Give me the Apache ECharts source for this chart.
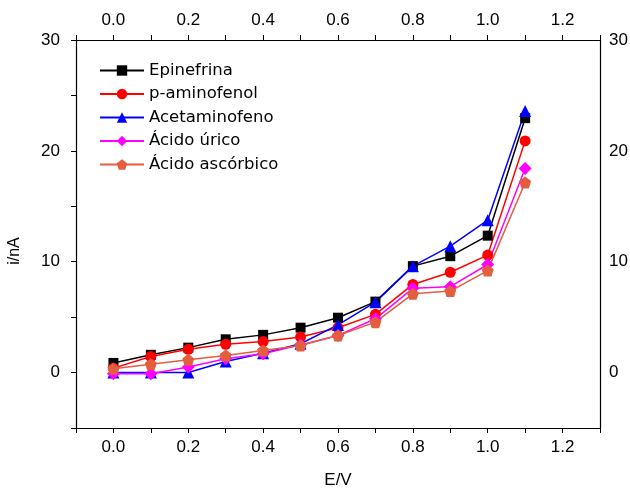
<!DOCTYPE html>
<html>
<head>
<meta charset="utf-8">
<script src="https://cdn.jsdelivr.net/npm/echarts@6/dist/echarts.min.js"></script>
<style>
  html, body { margin: 0; padding: 0; background: #fff; }
  #chart { width: 630px; height: 492px; }
</style>
</head>
<body>
<div id="chart"></div>
<script>
// potenciales (E/V)
var potentials = [0.0, 0.1, 0.2, 0.3, 0.4, 0.5, 0.6, 0.7, 0.8, 0.9, 1.0, 1.1];

// corrientes (i/nA)
var epinefrina   = [0.87, 1.6, 2.25, 3.0, 3.4, 4.05, 4.95, 6.4, 9.6, 10.5, 12.35, 22.95];
var paminofenol  = [0.4, 1.45, 2.1, 2.55, 2.8, 3.2, 4.05, 5.25, 7.95, 9.05, 10.6, 20.9];
var acetamino    = [0.0, 0.0, 0.0, 1.0, 1.75, 2.6, 4.3, 6.35, 9.6, 11.4, 13.75, 23.6];
var acidoUrico   = [-0.1, -0.1, 0.5, 1.25, 1.7, 2.5, 3.35, 4.85, 7.6, 7.75, 9.75, 18.4];
var acidoAscorb  = [0.35, 0.75, 1.15, 1.55, 2.0, 2.45, 3.35, 4.55, 7.1, 7.35, 9.2, 17.15];

var seriesNames = ['Epinefrina', 'p-aminofenol', 'Acetaminofeno', 'Ácido úrico', 'Ácido ascórbico'];
var seriesData = [epinefrina, paminofenol, acetamino, acidoUrico, acidoAscorb];
var colors = ['#000000', '#ff0000', '#0000ff', '#ff00ff', '#e35d3f'];
var symbols = [
  'rect', 'circle', 'triangle', 'diamond',
  'path://M0,-10 L9.5,-3.1 L5.9,8.1 L-5.9,8.1 L-9.5,-3.1 Z'
];
var sizes = [10, 11, 12, 13, 12];

function pairs(ys) {
  return potentials.map(function (x, i) { return [x, ys[i]]; });
}

function xLabel(v) {
  var k = Math.round(v * 10);
  if (k < 0 || k > 12 || k % 2 !== 0) return '';
  return (k / 10).toFixed(1);
}
function yLabel(v) {
  var k = Math.round(v);
  if (k < 0 || k % 10 !== 0) return '';
  return String(k);
}

var tickFont = { fontFamily: 'Liberation Sans', fontSize: 17, color: '#000' };
var axisLine = { show: true, onZero: false, lineStyle: { color: '#000', width: 1.2 } };

var myChart = echarts.init(document.getElementById('chart'));

var option = {
  animation: false,
  grid: { left: 76, right: 30, top: 40, bottom: 64, containLabel: false, outerBoundsMode: 'none' },
  legend: {
    orient: 'vertical',
    left: 99,
    top: 62,
    padding: 0,
    itemWidth: 44,
    itemHeight: 13,
    itemGap: 6.5,
    textStyle: { fontFamily: 'DejaVu Sans', fontSize: 16.5, color: '#000' },
    data: seriesNames
  },
  xAxis: [{
    type: 'value', position: 'bottom',
    min: -0.1, max: 1.3, interval: 0.1,
    name: 'E/V', nameLocation: 'middle', nameGap: 44,
    nameTextStyle: { fontFamily: 'Liberation Sans', fontSize: 17, color: '#000' },
    axisLine: axisLine,
    axisTick: { show: true, inside: false, length: 5, lineStyle: { color: '#000' } },
    axisLabel: Object.assign({ margin: 11, formatter: xLabel, showMinLabel: true, showMaxLabel: true }, tickFont),
    splitLine: { show: false }
  }, {
    type: 'value', position: 'top',
    min: -0.1, max: 1.3, interval: 0.1,
    axisLine: axisLine,
    axisTick: { show: true, inside: false, length: 5, lineStyle: { color: '#000' } },
    axisLabel: Object.assign({ margin: 11, formatter: xLabel }, tickFont),
    splitLine: { show: false }
  }],
  yAxis: [{
    type: 'value', position: 'left',
    min: -5, max: 30, interval: 5,
    name: 'i/nA', nameLocation: 'middle', nameGap: 53,
    nameTextStyle: { fontFamily: 'Liberation Sans', fontSize: 16, color: '#000', padding: [0, 34, 0, 0] },
    axisLine: axisLine,
    axisTick: { show: true, inside: false, length: 5, lineStyle: { color: '#000' } },
    axisLabel: Object.assign({ margin: 16, formatter: yLabel }, tickFont),
    splitLine: { show: false }
  }, {
    type: 'value', position: 'right',
    min: -5, max: 30, interval: 5,
    axisLine: axisLine,
    axisTick: { show: false },
    axisLabel: Object.assign({ margin: 9, formatter: yLabel }, tickFont),
    splitLine: { show: false }
  }],
  series: seriesNames.map(function (name, i) {
    return {
      name: name,
      type: 'line',
      xAxisIndex: 0,
      yAxisIndex: 0,
      data: pairs(seriesData[i]),
      symbol: symbols[i],
      symbolSize: sizes[i],
      showAllSymbol: true,
      color: colors[i],
      lineStyle: { color: colors[i], width: 1.5 },
      itemStyle: { color: colors[i] }
    };
  })
};

myChart.setOption(option);
</script>
</body>
</html>
